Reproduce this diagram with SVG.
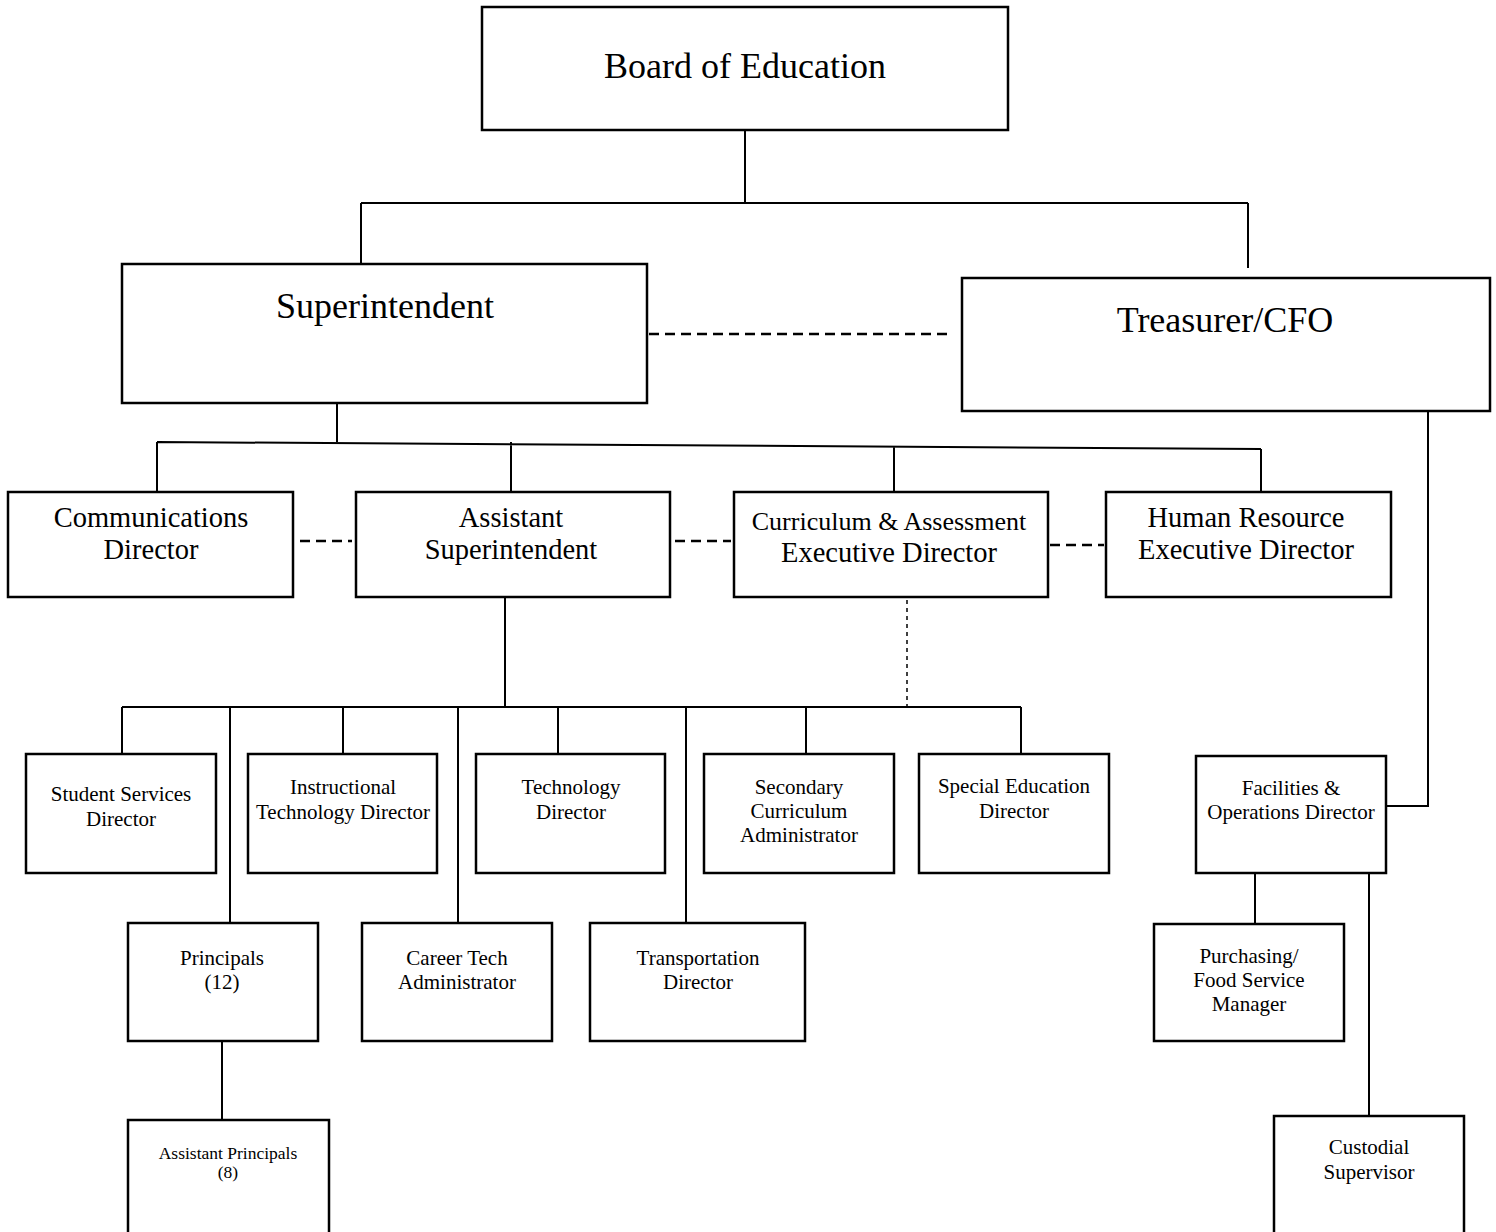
<svg xmlns="http://www.w3.org/2000/svg" width="1496" height="1232" viewBox="0 0 1496 1232">
<style>
.box{fill:#fff;stroke:#000;stroke-width:2.5}
.ln{fill:none;stroke:#000;stroke-width:2}
.dash{fill:none;stroke:#000;stroke-width:2.5;stroke-dasharray:10 6}
.dot{fill:none;stroke:#000;stroke-width:1.5;stroke-dasharray:4 4}
text{font-family:"Liberation Serif","Times New Roman",serif;fill:#000;text-anchor:middle}
.t1{font-size:36px}
.t2{font-size:28.5px}
.t3{font-size:21px}
.t4{font-size:17.5px}
</style>
<rect width="1496" height="1232" fill="#fff"/>
<g id="connectors">
<path class="ln" d="M745 130V203M361 203H1248M361 203V264M1248 203V268"/>
<path class="dash" d="M649 334H948"/>
<path class="ln" d="M337 396V442M157 442L1261 449M157 442V492M511 442V492M894 447V492M1261 449V492"/>
<path class="dash" d="M300 541H352M675 541H731M1050 545H1104"/>
<path class="ln" d="M1428 411V806H1386"/>
<path class="ln" d="M505 597V707M122 707H1021"/>
<path class="dot" d="M907 600V707"/>
<path class="ln" d="M122 707V754M230 707V923M343 707V754M458 707V923M558 707V754M686 707V923M806 707V754M1021 707V754"/>
<path class="ln" d="M1255 873V930M1369 873V1116M222 1041V1120"/>
</g>
<g id="board"><rect class="box" x="482" y="7" width="526" height="123"/><text class="t1" x="745" y="78">Board of Education</text></g>
<g id="superintendent"><rect class="box" x="122" y="264" width="525" height="139"/><text class="t1" x="385" y="318">Superintendent</text></g>
<g id="treasurer"><rect class="box" x="962" y="278" width="528" height="133"/><text class="t1" x="1225" y="332">Treasurer/CFO</text></g>
<g id="communications"><rect class="box" x="8" y="492" width="285" height="105"/><text class="t2" x="151" y="527">Communications</text><text class="t2" x="151" y="559">Director</text></g>
<g id="asst-supt"><rect class="box" x="356" y="492" width="314" height="105"/><text class="t2" x="511" y="527">Assistant</text><text class="t2" x="511" y="559">Superintendent</text></g>
<g id="curriculum"><rect class="box" x="734" y="492" width="314" height="105"/><text x="889" y="530" style="font-size:26px">Curriculum &amp; Assessment</text><text class="t2" x="889" y="562">Executive Director</text></g>
<g id="hr"><rect class="box" x="1106" y="492" width="285" height="105"/><text class="t2" x="1246" y="527">Human Resource</text><text class="t2" x="1246" y="559">Executive Director</text></g>
<g id="student-services"><rect class="box" x="26" y="754" width="190" height="119"/><text class="t3" x="121" y="801">Student Services</text><text class="t3" x="121" y="826">Director</text></g>
<g id="instr-tech"><rect class="box" x="248" y="754" width="189" height="119"/><text class="t3" x="343" y="794">Instructional</text><text class="t3" x="343" y="819">Technology Director</text></g>
<g id="tech"><rect class="box" x="476" y="754" width="189" height="119"/><text class="t3" x="571" y="794">Technology</text><text class="t3" x="571" y="819">Director</text></g>
<g id="secondary"><rect class="box" x="704" y="754" width="190" height="119"/><text class="t3" x="799" y="794">Secondary</text><text class="t3" x="799" y="818">Curriculum</text><text class="t3" x="799" y="842">Administrator</text></g>
<g id="special-ed"><rect class="box" x="919" y="754" width="190" height="119"/><text class="t3" x="1014" y="793">Special Education</text><text class="t3" x="1014" y="818">Director</text></g>
<g id="facilities"><rect class="box" x="1196" y="756" width="190" height="117"/><text class="t3" x="1291" y="795">Facilities &amp;</text><text class="t3" x="1291" y="819">Operations Director</text></g>
<g id="principals"><rect class="box" x="128" y="923" width="190" height="118"/><text class="t3" x="222" y="965">Principals</text><text class="t3" x="222" y="989">(12)</text></g>
<g id="career-tech"><rect class="box" x="362" y="923" width="190" height="118"/><text class="t3" x="457" y="965">Career Tech</text><text class="t3" x="457" y="989">Administrator</text></g>
<g id="transportation"><rect class="box" x="590" y="923" width="215" height="118"/><text class="t3" x="698" y="965">Transportation</text><text class="t3" x="698" y="989">Director</text></g>
<g id="purchasing"><rect class="box" x="1154" y="924" width="190" height="117"/><text class="t3" x="1249" y="963">Purchasing/</text><text class="t3" x="1249" y="987">Food Service</text><text class="t3" x="1249" y="1011">Manager</text></g>
<g id="asst-principals"><rect class="box" x="128" y="1120" width="201" height="130"/><text class="t4" x="228" y="1159">Assistant Principals</text><text class="t4" x="228" y="1178">(8)</text></g>
<g id="custodial"><rect class="box" x="1274" y="1116" width="190" height="134"/><text class="t3" x="1369" y="1154">Custodial</text><text class="t3" x="1369" y="1179">Supervisor</text></g>
</svg>
